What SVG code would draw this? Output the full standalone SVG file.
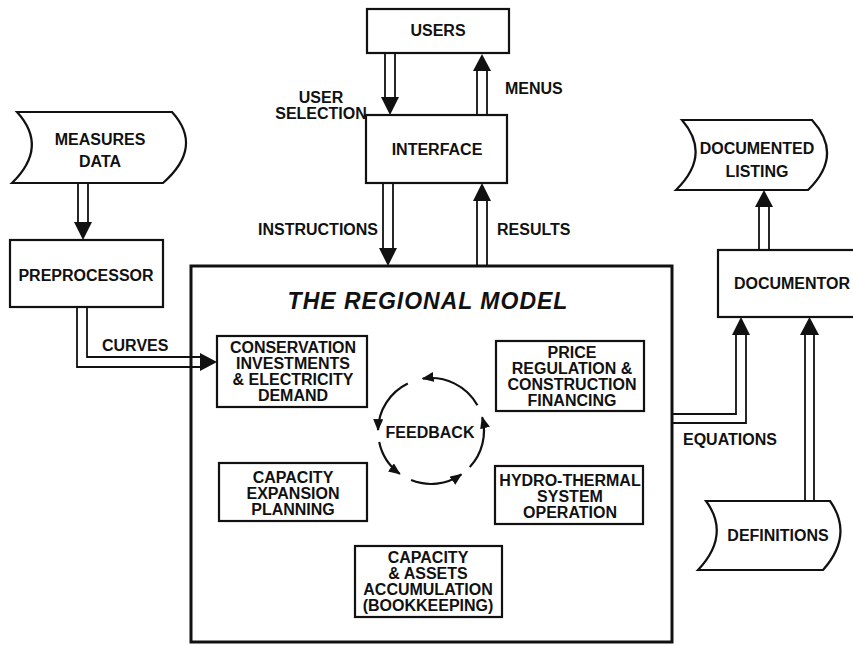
<svg xmlns="http://www.w3.org/2000/svg" width="853" height="646" viewBox="0 0 853 646">
<style>
text{font-family:"Liberation Sans",Arial,sans-serif;font-size:16px;font-weight:bold;fill:#111;text-anchor:middle}
.box{fill:#fff;stroke:#111;stroke-width:2.2}
.main{fill:#fff;stroke:#111;stroke-width:3}
.sh{fill:none;stroke:#111;stroke-width:1.8}
.hd{fill:#111;stroke:none}
.fb{fill:none;stroke:#111;stroke-width:2.2}
.lab{text-anchor:start}
.title{font-size:23px;font-style:italic;letter-spacing:1px}
</style>
<defs>
<marker id="ah" viewBox="0 0 12 10" refX="11" refY="5" markerWidth="12" markerHeight="10" markerUnits="userSpaceOnUse" orient="auto">
<path d="M0,0 L12,5 L0,10 Z" fill="#111"/>
</marker>
</defs>
<rect width="853" height="646" fill="#fff"/>

<g id="main-model">
<rect class="main" x="191" y="266" width="481" height="376"/>
<text class="title" x="428" y="309">THE REGIONAL MODEL</text>
</g>

<g id="users">
<rect class="box" x="367" y="9" width="142" height="44"/>
<text x="438" y="36">USERS</text>
</g>

<g id="interface">
<rect class="box" x="366" y="115" width="141" height="68"/>
<text x="437" y="155">INTERFACE</text>
</g>

<g id="measures-data">
<path class="box" d="M17,112 L172,112 Q204,147 163,183 L12,183 Q49,147 17,112 Z"/>
<text x="100" y="145">MEASURES</text>
<text x="100" y="167">DATA</text>
</g>

<g id="preprocessor">
<rect class="box" x="10" y="240" width="153" height="67"/>
<text x="86" y="281">PREPROCESSOR</text>
</g>

<g id="conservation">
<rect class="box" x="217" y="336" width="150" height="71"/>
<text x="293" y="353">CONSERVATION</text>
<text x="293" y="369">INVESTMENTS</text>
<text x="293" y="385">&amp; ELECTRICITY</text>
<text x="293" y="401">DEMAND</text>
</g>

<g id="price-regulation">
<rect class="box" x="496" y="341" width="148" height="70"/>
<text x="572" y="358">PRICE</text>
<text x="572" y="374">REGULATION &amp;</text>
<text x="572" y="390">CONSTRUCTION</text>
<text x="572" y="406">FINANCING</text>
</g>

<g id="capacity-expansion">
<rect class="box" x="219" y="463" width="148" height="58"/>
<text x="293" y="483">CAPACITY</text>
<text x="293" y="499">EXPANSION</text>
<text x="293" y="515">PLANNING</text>
</g>

<g id="hydro-thermal">
<rect class="box" x="495" y="466" width="148" height="58"/>
<text x="570" y="486">HYDRO-THERMAL</text>
<text x="570" y="502">SYSTEM</text>
<text x="570" y="518">OPERATION</text>
</g>

<g id="capacity-assets">
<rect class="box" x="355" y="546" width="147" height="71"/>
<text x="428" y="563">CAPACITY</text>
<text x="428" y="579">&amp; ASSETS</text>
<text x="428" y="595">ACCUMULATION</text>
<text x="428" y="611">(BOOKKEEPING)</text>
</g>

<g id="feedback">
<text x="430" y="438">FEEDBACK</text>
<path class="fb" marker-end="url(#ah)" d="M477.4,405.3 A53,53 0 0 0 422.7,378.7"/>
<path class="fb" marker-end="url(#ah)" d="M407.8,383.4 A53,53 0 0 0 378.0,430.1"/>
<path class="fb" marker-end="url(#ah)" d="M379.2,442.0 A53,53 0 0 0 399.8,473.9"/>
<path class="fb" marker-end="url(#ah)" d="M411.1,480.1 A53,53 0 0 0 461.4,474.4"/>
<path class="fb" marker-end="url(#ah)" d="M469.8,467.1 A53,53 0 0 0 482.2,417.3"/>
</g>

<g id="documented-listing">
<path class="box" d="M682,120 L812,120 Q844,155 808,190 L676,190 Q712,155 682,120 Z"/>
<text x="757" y="154">DOCUMENTED</text>
<text x="757" y="177">LISTING</text>
</g>

<g id="documentor">
<rect class="box" x="718" y="250" width="150" height="67"/>
<text x="792" y="289">DOCUMENTOR</text>
</g>

<g id="definitions">
<path class="box" d="M706,501 L830,501 Q854,535 823,570 L698,570 Q731,535 706,501 Z"/>
<text x="778" y="541">DEFINITIONS</text>
</g>

<g id="connectors">
<path class="sh" d="M385,53 V97 M395,53 V97"/>
<polygon class="hd" points="381,97 399,97 390,115"/>
<path class="sh" d="M477,115 V71 M487,115 V71"/>
<polygon class="hd" points="473,71 491,71 482,54"/>
<path class="sh" d="M383,183 V248 M393,183 V248"/>
<polygon class="hd" points="379,248 397,248 388,266"/>
<path class="sh" d="M477,266 V201 M487,266 V201"/>
<polygon class="hd" points="473,201 491,201 482,183"/>
<path class="sh" d="M78,183 V222 M88,183 V222"/>
<polygon class="hd" points="74,222 92,222 83,240"/>
<path class="sh" d="M87,307 V357 H200 M77,307 V367 H200"/>
<polygon class="hd" points="200,353 200,371 217,362"/>
<path class="sh" d="M759,250 V207 M769,250 V207"/>
<polygon class="hd" points="755,207 773,207 764,190"/>
<path class="sh" d="M672,414 H736 V335 M672,423 H746 V335"/>
<polygon class="hd" points="732,335 750,335 741,317"/>
<path class="sh" d="M805,501 V335 M814,501 V335"/>
<polygon class="hd" points="800,335 819,335 809.5,317"/>
</g>

<g id="labels">
<text x="321" y="103">USER</text>
<text x="321" y="119">SELECTION</text>
<text class="lab" x="505" y="94">MENUS</text>
<text class="lab" x="258" y="235">INSTRUCTIONS</text>
<text class="lab" x="497" y="235">RESULTS</text>
<text class="lab" x="102" y="351">CURVES</text>
<text class="lab" x="683" y="445">EQUATIONS</text>
</g>
</svg>
